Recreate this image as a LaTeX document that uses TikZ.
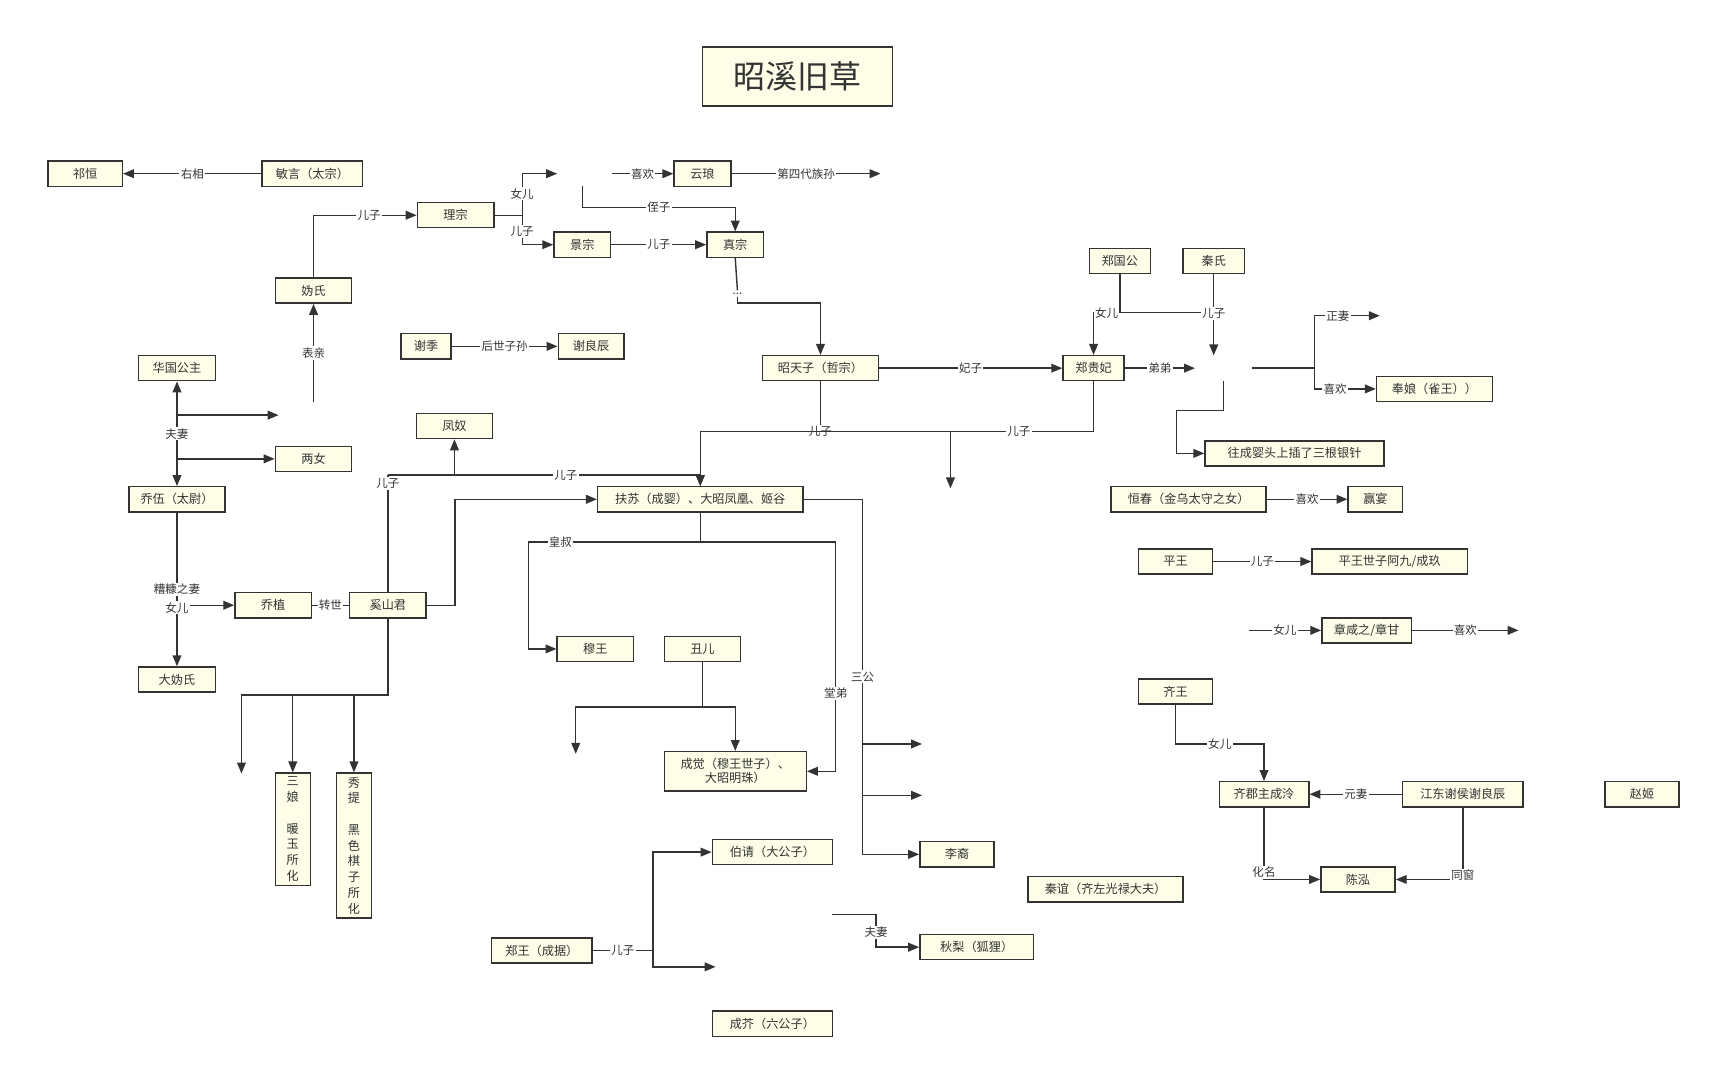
\documentclass[tikz,border=0pt]{standalone}
\usepackage{fontspec}
\setmainfont{Noto Sans CJK SC}
\usetikzlibrary{arrows.meta,positioning}
\definecolor{boxfill}{RGB}{253,253,232}
\definecolor{linedark}{RGB}{51,51,51}

\tikzset{
  box/.style={draw=linedark, fill=boxfill, line width=1.1pt, minimum height=0.69cm,
    inner sep=1pt, font=\fontsize{9.5}{11}\selectfont, text=linedark},
  vbox/.style={box, anchor=north, minimum width=0.96cm, align=center,
    font=\fontsize{9.5}{12.3}\selectfont, inner ysep=3pt},
  lbl/.style={fill=white, inner sep=1pt, font=\fontsize{9}{10}\selectfont, text=linedark},
  line/.style={draw=linedark, line width=1.1pt},
  arr/.style={line, -{Triangle[length=3mm,width=2.4mm]}},
  arr2/.style={line, {Triangle[length=3mm,width=2.4mm]}-{Triangle[length=3mm,width=2.4mm]}}
}

\begin{document}
\begin{tikzpicture}[x=0.03cm, y=-0.03cm]
  \useasboundingbox[fill=white] (0,0) rectangle (1568,978);

  % title
  \node[box, minimum width=5.22cm, minimum height=1.62cm, font=\fontsize{25}{28}\selectfont] (title) at (730,70) {昭溪旧草};

  % boxes
  \node[box, minimum width=2.04cm] (qh) at (78,159) {祁恒};
  \node[box, minimum width=2.76cm] (ms) at (286,159) {敏言（太宗）};
  \node[box, minimum width=2.1cm] (lz) at (417,197) {理宗};
  \node[box, minimum width=1.56cm] (jz) at (533,224) {景宗};
  \node[box, minimum width=1.56cm] (yl) at (643,159) {云琅};
  \node[box, minimum width=1.56cm] (zz) at (673,224) {真宗};
  \node[box, minimum width=2.1cm] (gs) at (287,266) {妫氏};
  \node[box, minimum width=1.38cm] (xj) at (390,317) {谢季};
  \node[box, minimum width=1.8cm] (xl) at (541,317) {谢良辰};
  \node[box, minimum width=2.1cm] (hg) at (162,337) {华国公主};
  \node[box, minimum width=2.1cm] (lv) at (287,420) {两女};
  \node[box, minimum width=2.1cm] (fnu) at (416,390) {凤奴};
  \node[box, minimum width=2.64cm] (qw) at (162,457) {乔伍（太尉）};
  \node[box, minimum width=3.18cm] (zt) at (751,337) {昭天子（哲宗）};
  \node[box, minimum width=1.68cm] (zgg) at (1025,239) {郑国公};
  \node[box, minimum width=1.68cm] (qs) at (1111,239) {秦氏};
  \node[box, minimum width=1.68cm] (zg) at (1001,337) {郑贵妃};
  \node[minimum width=1.56cm, minimum height=0.69cm, inner sep=0pt] (xd) at (1120,337) {};
  \node[box, minimum width=3.18cm] (fng) at (1313,356) {奉娘（雀王））};
  \node[box, minimum width=4.92cm] (yz) at (1185,415) {往成婴头上插了三根银针};
  \node[box, minimum width=5.64cm] (fs) at (641,457) {扶苏（成婴）、大昭凤凰、姬谷};
  \node[box, minimum width=4.26cm] (hc) at (1088,457) {恒春（金乌太守之女）};
  \node[box, minimum width=1.5cm] (yy) at (1259,457) {赢宴};
  \node[box, minimum width=2.04cm] (pw) at (1076,514) {平王};
  \node[box, minimum width=4.26cm] (pwz) at (1272,514) {平王世子阿九/成玖};
  \node[box, minimum width=2.46cm] (zx) at (1251,577) {章咸之/章甘};
  \node[box, minimum width=2.1cm] (qz) at (250,554) {乔植};
  \node[box, minimum width=2.1cm] (xs) at (355,554) {奚山君};
  \node[box, minimum width=2.1cm] (mw) at (545,594) {穆王};
  \node[box, minimum width=2.1cm] (ce) at (643,594) {丑儿};
  \node[box, minimum width=2.1cm] (dg) at (162,622) {大妫氏};
  \node[box, minimum width=2.04cm] (qwang) at (1076,633) {齐王};
  \node[box, minimum width=3.9cm, minimum height=1.08cm, align=center] (cj) at (673,706) {成觉（穆王世子）、\\大昭明珠）};
  \node[vbox] (sn) at (268,707) {三\\娘\\ \\暖\\玉\\所\\化};
  \node[vbox] (xt) at (324,707) {秀\\提\\ \\黑\\色\\棋\\子\\所\\化};
  \node[box, minimum width=2.46cm] (qjz) at (1157,727) {齐郡主成泠};
  \node[box, minimum width=3.3cm] (jd) at (1339,727) {江东谢侯谢良辰};
  \node[box, minimum width=2.04cm] (zj) at (1503,727) {赵姬};
  \node[box, minimum width=3.3cm] (bqz) at (707,780) {伯请（大公子）};
  \node[box, minimum width=2.04cm] (ly) at (876,782) {李裔};
  \node[box, minimum width=2.04cm] (ch) at (1243,805) {陈泓};
  \node[box, minimum width=4.26cm] (qy) at (1012,814) {秦谊（齐左光禄大夫）};
  \node[box, minimum width=3.12cm] (ql) at (894,867) {秋梨（狐狸）};
  \node[box, minimum width=2.76cm] (zw) at (496,870) {郑王（成据）};
  \node[box, minimum width=3.3cm] (cjie) at (707,937) {成芥（六公子）};
  \node[fill=white, inner xsep=1pt, inner ysep=2pt, font=\fontsize{9}{10}\selectfont, text=linedark] (dots) at (675,269) {...};

  % free ends
  \coordinate (nv) at (510,159);
  \coordinate (yl0) at (533,170);
  \coordinate (yl1) at (560,159);
  \coordinate (yl2) at (806,159);
  \coordinate (lzj) at (478,197);
  \coordinate (bq) at (287,368);
  \coordinate (fq1) at (162,380);
  \coordinate (fq1e) at (255,380);
  \coordinate (xdj) at (1203,337);
  \coordinate (zq) at (1263,289);
  \coordinate (er3) at (870,447);
  \coordinate (sfree) at (221,708);
  \coordinate (sg1) at (844,681);
  \coordinate (sg2) at (844,728);
  \coordinate (cef) at (527,690);
  \coordinate (zwf) at (655,885);
  \coordinate (fq0) at (762,837);
  \coordinate (nr) at (1143,577);
  \coordinate (xh) at (1390,577);

  % top lineage
  \draw[arr] (ms) -- node[lbl]{右相} (qh);
  \draw[arr] (gs.north) |- node[lbl,pos=0.77]{儿子} (lz.west);
  \draw[line] (lz.east) -- (lzj);
  \draw[arr] (lzj) |- node[lbl,pos=0.26]{女儿} (nv);
  \draw[arr] (lzj) |- node[lbl,pos=0.28]{儿子} (jz.west);
  \draw[arr] (yl0) -- ++(0,20) -| node[lbl,pos=0.25]{侄子} (zz.north);
  \draw[arr] (yl1) -- node[lbl]{喜欢} (yl.west);
  \draw[arr] (yl.east) -- node[lbl]{第四代族孙} (yl2);
  \draw[arr] (jz) -- node[lbl]{儿子} (zz);
  \draw[line] (zz.south) -- (dots.north);
  \draw[arr] (dots.south) -- ++(0,5) -| (zt.north);
  \draw[arr] (bq) -- node[lbl]{表亲} (gs);
  \draw[arr] (fq1) -- (fq1e);
  \draw[arr] (hg.south |- lv.west) -- (lv.west);
  \draw[arr2] (hg) -- node[lbl]{夫妻} (qw);
  \draw[arr] (xj) -- node[lbl]{后世子孙} (xl);

  % zheng family
  \draw[arr] (zt) -- node[lbl]{妃子} (zg);
  \draw[arr] (zgg.south) -- ++(0,35) coordinate (jn) -| node[lbl,pos=0.25]{女儿} (zg.north);
  \draw[line] (jn) -- (jn -| qs.south);
  \draw[arr] (qs.south) -- node[lbl,pos=0.48]{儿子} (qs.south |- xd.north);
  \draw[arr] (zg) -- node[lbl]{弟弟} (xd);
  \draw[line] (xd.east) -- (xdj);
  \draw[arr] (xdj) |- node[lbl,pos=0.68]{正妻} (zq);
  \draw[arr] (xdj) |- node[lbl,pos=0.67]{喜欢} (fng.west);
  \draw[arr] (xd.south) -- ++(0,27) -- ++(-43,0) |- (yz.west);
  \draw[arr] (zt.south) -- ++(0,46) -| node[lbl,pos=0]{儿子} (fs.north);
  \draw[line] (zg.south) -- ++(0,46) coordinate (zgj);
  \draw[line] (zgj) -- node[lbl,pos=0.19]{儿子} (zgj -| fs.north);
  \draw[arr] (er3 |- zgj) -- (er3);

  % xishan jun
  \draw[line] (xs.north) -- node[lbl,pos=0.93]{儿子} ++(0,-107) coordinate (xsj);
  \draw[arr] (xsj) -| node[lbl,pos=0.285]{儿子} (fs.north);
  \draw[arr] (fnu.south |- xsj) -- (fnu.south);
  \draw[arr] (xs.east) -- ++(26,0) |- (fs.west);
  \draw[arr] (qw.south |- qz.west) -- (qz.west);
  \draw[arr] (qw) -- node[lbl,pos=0.5]{糟糠之妻} node[lbl,pos=0.62]{女儿} (dg);
  \draw[line] (qz) -- node[lbl]{转世} (xs);
  \draw[arr] (xs.south) -- ++(0,70) coordinate (xsb) -| (sfree);
  \draw[arr] (sn.north |- xsb) -- (sn.north);
  \draw[arr] (xt.north |- xsb) -- (xt.north);

  % fusu
  \draw[line] (fs.south) -- ++(0,27) coordinate (fsb);
  \draw[arr] (fsb) -- node[lbl,pos=0.815]{皇叔} ++(-157,0) |- (mw.west);
  \draw[arr] (fsb) -- ++(124,0) |- node[lbl,pos=0.33]{堂弟} (cj.east);
  \draw[arr] (fs.east) -- ++(54,0) coordinate (sgj) |- node[lbl,pos=0.25]{三公} (ly.west);
  \draw[arr] (sgj |- sg1) -- (sg1);
  \draw[arr] (sgj |- sg2) -- (sg2);
  \draw[line] (ce.south) -- ++(0,41) coordinate (ceb);
  \draw[arr] (ceb) -| (cef);
  \draw[arr] (ceb) -| (cj.north);

  % zheng wang
  \draw[line] (zw.east) -- node[lbl]{儿子} ++(55,0) coordinate (zwj);
  \draw[arr] (zwj) |- (bqz.west);
  \draw[arr] (zwj) |- (zwf);
  \draw[arr] (fq0) -- ++(40,0) |- node[lbl,pos=0.27]{夫妻} (ql.west);

  % qi
  \draw[arr] (qwang.south) -- ++(0,36) -| node[lbl,pos=0.25]{女儿} (qjz.north);
  \draw[arr] (jd) -- node[lbl]{元妻} (qjz);
  \draw[arr] (qjz.south) |- node[lbl,pos=0.45]{化名} (ch.west);
  \draw[arr] (jd.south) |- node[lbl,pos=0.47]{同窗} (ch.east);

  % others
  \draw[arr] (hc) -- node[lbl]{喜欢} (yy);
  \draw[arr] (pw) -- node[lbl]{儿子} (pwz);
  \draw[arr] (nr) -- node[lbl]{女儿} (zx);
  \draw[arr] (zx) -- node[lbl]{喜欢} (xh);
\end{tikzpicture}
\end{document}
